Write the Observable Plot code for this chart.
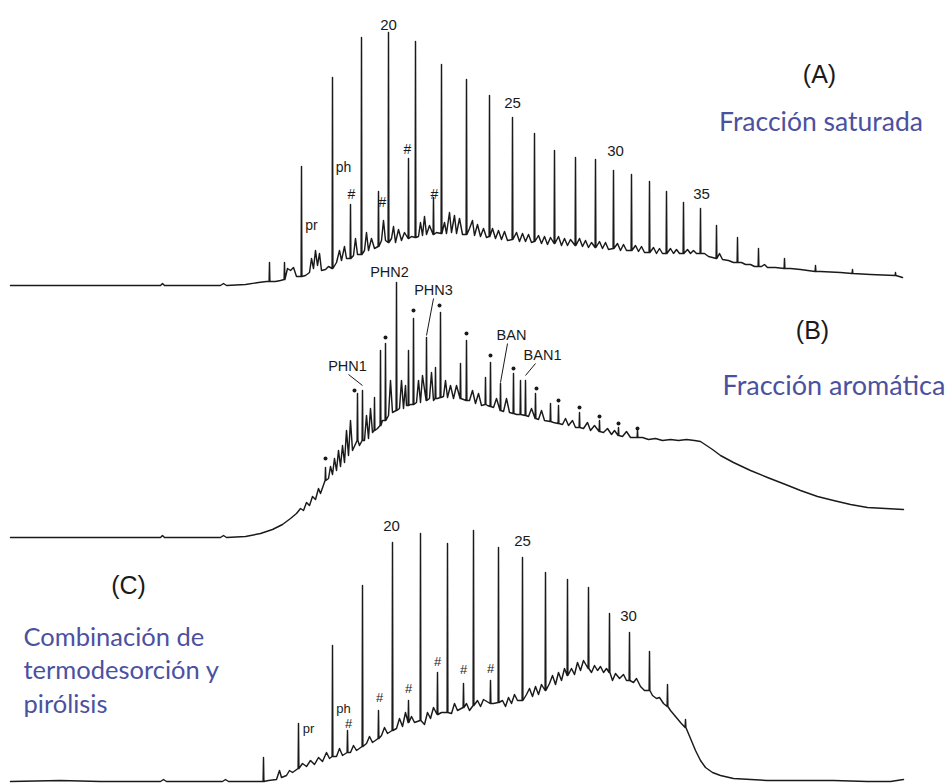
<!DOCTYPE html>
<html><head><meta charset="utf-8">
<script src="https://cdn.jsdelivr.net/npm/d3@7"></script>
<script src="https://cdn.jsdelivr.net/npm/@observablehq/plot@0.6"></script>
<style>
html,body{margin:0;padding:0;background:#fff;overflow:hidden}
#chart{position:relative;width:951px;height:784px}
.panel{position:absolute;left:0;width:951px;height:290px}
</style></head><body><div id="chart"></div>
<script>
// ---- Data: retention time t (min), detector signal v (a.u.) ----
// Panel A: fracción saturada
const humpA = [
[1.0,2.5],[16.0,2.5],[16.2,3.5],[16.4,2.5],[22.0,2.5],[22.3,3.5],[22.6,2.5],[24.5,3],[25.8,4],[26.6,4.5],
[27.5,4.5],[28.0,5],[28.7,11],[29.0,10],[29.3,11.5],[29.6,7],
[30.5,7.5],[30.9,9],[31.1,16],[31.3,11],[31.5,20],[31.7,12.5],[31.9,18.5],[32.1,10],[32.5,10.5],[32.8,12],
[33.6,14],[33.9,20],[34.1,15],[34.4,22],[34.6,16],[35.3,17.5],[35.5,26],[35.7,18],
[36.4,20],[36.6,29],[36.8,20],[37.1,26],[37.4,21],[38.1,25],[38.3,35],[38.5,25],
[39.1,26],[39.3,32],[39.5,24],[39.8,30.5],[40.1,25],[40.4,29],[41.1,27],
[41.8,27],[42.0,34],[42.2,27.5],[42.4,37],[42.6,28],[42.9,32.5],[43.6,29],
[44.4,34],[44.6,28.5],[44.9,39],[45.1,29],[45.4,37.5],[45.6,28.5],[45.9,36],[46.2,28],
[46.9,31],[47.2,35],[47.4,27.5],[47.7,33],[48.0,27],[48.3,31],[48.6,26.5],
[49.2,31],[49.5,26],[49.8,30],[50.1,25.5],[50.4,29.5],[50.7,25],
[51.6,29],[51.9,24.5],[52.2,28.5],[52.5,24.5],[52.8,28],[53.1,24],
[53.8,27.5],[54.1,23.5],[54.4,27],[54.7,23],[55.0,26.5],
[55.8,27],[56.1,22.5],[56.4,26],[56.7,22.5],[57.0,25.5],
[57.9,26],[58.2,22],[58.5,25],[58.8,21.5],[59.1,24],
[59.9,24.5],[60.2,21],[60.5,24],[60.8,20.5],
[61.7,23.5],[62.0,20],[62.3,23],[62.6,20],
[63.5,22.5],[63.8,19.5],[64.1,22],[64.4,19],
[65.3,21.5],[65.6,18.5],[65.9,21],[66.2,18.5],
[67.0,21],[67.3,18.5],[67.6,20.5],[67.9,18.5],
[68.7,20.5],[69.0,18.5],[69.3,20],[69.6,18.5],
[70.4,18.5],[70.8,17],[71.2,16.5],[71.9,18.5],[72.2,15.5],[72.8,15],[73.3,14],
[74.1,14],[74.5,13],[75.0,13],[75.4,12],[76.1,12],[76.4,13],[76.7,11.5],[77.5,11.5],
[79.0,11],[80.0,10.5],[82.0,9.5],[84.0,9],[87.0,8],[90.2,6.5]
];
// peaks: [t, foot, apex]
const peaksA = [
[26.9,4.5,14],[28.4,5.5,14],[30.1,7,62],[33.2,11,106.5],[35.0,16,43],[36.1,18,126.5],[37.8,22,49.5],
[38.8,24,129],[40.8,26,66],[41.5,26.5,124.5],[43.3,28,46.5],[44.1,28.5,113],[46.6,28,105.5],
[48.9,27,97.5],[51.2,25.5,86.5],[53.4,24.5,78.5],[55.4,23.5,70],[57.5,22.5,66.5],[59.5,21.5,65.5],
[61.3,21,60],[63.1,20,58],[64.9,19,54.5],[66.6,18.5,49.5],[68.3,18.5,44],[70.0,18.5,41],
[71.6,16,32.5],[73.7,14,26.5],[75.8,12,21],[78.4,11,16],[81.5,9.5,12.5],[85.2,8.5,10.5],[89.5,7.5,9]
];
const carbonA = [["20",38.8,132.5],["25",51.2,93.5],["30",61.5,69.5],["35",70.1,48]];
const notesA = [["pr",31.1,32.5],["ph",34.3,61.5],["#",35.1,48],["#",38.2,44],["#",40.7,70.5],["#",43.4,48]];
const titleA = [["(A)",81.9,108]];
const subA = [["Fracción saturada",82.05,84]];

// Panel B: fracción aromática
const humpB = [
[1.0,1.5],[16.0,1.5],[16.2,2.5],[16.4,1.5],[22.0,1.5],[22.3,2.5],[22.6,1.5],[24.5,2],[26.0,3.5],[27.2,5.5],
[28.2,8],[29.0,11],[29.6,13.5],[30.0,16],[30.3,15],[30.6,19],[30.9,17.5],[31.2,22],[31.5,20.5],[31.8,26],[32.0,23.5],
[32.8,31],[33.0,37],[33.2,33],[33.4,41],[33.6,35],[33.8,45],[34.0,37],[34.2,47.5],[34.4,39],[34.6,55],[34.8,42.5],
[35.0,60],[35.2,45],[35.9,47.5],[36.4,50],[36.6,62.5],[36.8,51],[37.0,66],[37.2,54],[37.7,56],[38.2,60],
[38.8,62.5],[39.0,80],[39.2,64],[39.9,66],[40.1,80],[40.3,66],[40.5,77.5],[40.6,67.5],[41.0,68],
[41.6,69],[41.8,80],[42.0,69],[42.2,82.5],[42.9,71],[43.1,84],[43.3,70],[43.7,71],
[44.3,72],[44.5,80],[44.7,71.5],[45.0,77.5],[45.3,71],[45.6,77.5],[46.3,70.5],[46.9,70],
[47.2,75],[47.5,68.5],[47.8,73.5],[48.1,67.5],[48.7,67.5],[49.3,66.5],[49.6,71],[50.3,64.5],[50.6,71],[50.9,64],
[51.6,63],[52.8,62],[53.1,66],[53.8,60.5],[54.1,65],[54.4,60],[55.3,59],[56.2,58],[56.5,61],[56.8,57.5],
[57.2,60],[57.5,56.5],[58.3,56],[58.7,59],[59.0,55],[59.4,57.5],[60.3,54],[60.7,56],[61.1,53],[61.4,55],
[62.2,52],[62.6,54.5],[63.0,51.5],[64.2,51.5],[64.8,50.5],[65.5,51],[66.2,50],[67.0,50.5],[67.8,50],
[68.6,50.5],[69.4,50],[70.0,49.5],[70.6,47.5],[71.2,45.5],[72.0,42.5],[73.3,39],[75.0,35],[76.7,31.5],
[78.5,28],[80.0,25],[81.7,22],[83.3,20],[85.0,18],[86.7,16.5],[88.5,16],[90.3,15.5]
];
const peaksB = [
[32.5,30,36.5],[35.7,50,73.5],[36.2,50,75],[37.4,55,71.5],[38.0,57.5,95],[38.5,60,98.5],[39.6,65,129],
[40.8,67.5,95],[41.3,68,111],[42.6,70,101.5],[43.5,71,86.5],[44.0,71.5,114],[46.0,71,88.5],[46.6,70,100],
[48.5,68,81.5],[49.0,67,89],[50.0,65,78.5],[51.3,63.5,83.5],[52.0,63,80],[52.5,62.5,80],[53.5,61,73.5],
[55.0,59.5,68.5],[55.8,58.5,67.5],[57.9,56.5,64],[59.9,54.5,60],[61.8,52.5,56.5],[63.7,51.5,55]
];
const dotsB = [[32.5,41],[35.4,75],[38.5,101.5],[41.3,115],[43.9,117.5],[46.6,103.5],[49.0,92.5],[51.3,86],
[53.6,76],[55.8,70],[57.9,66.5],[59.9,62],[61.8,58.5],[63.7,56]];
const namesB = [["PHN1",34.7,87],["PHN2",38.9,134],["PHN3",43.3,125],["BAN",51.1,102.5],["BAN1",54.2,92.5]];
const leadersB = [[34.8,83,36.2,77.5],[43.3,121,42.6,102.5],[50.7,98.5,50.0,79],[53.5,88.5,52.5,82.5]];
const titleB = [["(B)",81.2,105]];
const subB = [["Fracción aromática",83.35,77]];

// Panel C: combinación de termodesorción y pirólisis
const humpC = [
[1.0,1.5],[6.0,2],[10.0,1.5],[16.0,1.5],[16.3,2.5],[16.6,1.5],[22.2,1.5],[22.5,2.5],[22.8,1.5],[25.8,1.5],
[26.8,2],[27.6,2.5],[27.9,7],[28.1,3.5],[28.6,4.5],[28.9,7],[29.2,6],
[30.2,10.5],[30.6,9],[31.0,12],[31.4,10],[31.8,13.5],[32.2,11.5],[32.6,16],[32.9,13],
[33.6,14],[33.9,18],[34.2,14.5],[35.0,16],[35.3,19.5],[35.6,17],[36.6,20.5],[36.9,24],[37.2,21],
[38.1,24.5],[38.4,28.5],[38.7,25.5],[39.6,28],[39.9,33],[40.2,29],[40.5,36],[41.1,34],[41.4,31],
[42.4,30],[42.7,36],[43.0,33],[43.3,38.5],[44.1,36],[45.1,35.5],[45.4,40.5],[45.7,37],
[46.6,40.5],[46.9,37],[47.7,42],[48.0,39],[48.3,42.5],[49.3,40.5],
[50.2,42],[50.5,39],[50.8,43.5],[51.1,40.5],[51.4,45],[51.7,42],
[52.6,45],[52.9,48],[53.2,44],[53.5,49],[53.8,45],[54.1,50],
[54.9,50.5],[55.2,54.5],[55.5,50],[55.8,56],[56.1,52],[56.4,58],
[57.1,58],[57.4,55],[57.7,61],[58.0,57],[58.3,62],
[59.1,56],[59.4,59.5],[59.7,57],[60.0,59],[60.3,56],[60.6,58],
[61.2,52],[61.5,55.5],[61.9,53],[62.3,55],[62.6,52],
[63.3,51],[63.6,53],[64.0,49],[64.4,47],[65.2,44.5],[65.6,43],[65.9,43.5],[66.3,40.5],
[67.0,37],[67.5,34],[68.0,31],[69.0,23],[69.5,17],[70.0,12],[70.5,8.5],[71.2,6],[72.0,4.5],
[73.3,3],[76.7,2],[83.3,2],[86.7,1.5],[89.0,1.5],[90.3,2.5]
];
const peaksC = [
[26.3,1.5,13.5],[29.8,8,30.5],[33.2,14,69.5],[34.7,16,27],[36.2,19,99.5],[37.8,23,37],[39.2,27,121],
[40.8,31,42],[42.0,32,125.5],[43.7,35,56],[44.7,36,120.5],[46.3,38.5,50.5],[47.3,39.5,127],[49.0,40.5,52],
[49.8,41,118.5],[52.2,42,113.5],[54.5,47,106],[56.7,54.5,102.5],[58.8,58,98.5],[60.9,56,85.5],
[62.9,52,76],[64.9,47,66.5],[66.7,39,50],[68.5,28.5,32.5]
];
const carbonC = [["20",39.1,129],["25",52.2,121.5],["30",62.8,84]];
const notesC = [["pr",30.8,28],["ph",34.3,38],["#",34.8,30.5],["#",37.9,43.5],["#",40.8,48],["#",43.7,61.5],["#",46.3,57.5],["#",49.0,58]];
const titleC = [["(C)",12.8,99.5]];
const subC = [["Combinación de",2.3,73.5],["termodesorción y",2.3,57],["pirólisis",2.3,40]];

// ---- Drawing ----
const INK = "#1a1a1a", BLUE = "#4b519f";
const SANS = "'Liberation Sans', Arial, sans-serif";
const HUM = "Lato, 'Open Sans', sans-serif";

function trace(hump, peaks) {
  const pts = hump.map(([t, v]) => ({t, v}));
  for (const [t, foot, top] of peaks) pts.push({t: t - 0.04, v: foot}, {t, v: top}, {t: t + 0.04, v: foot});
  return pts.sort((a, b) => a.t - b.t);
}
const txt = (rows, o) => Plot.text(rows, {x: d => d[1], y: d => d[2], text: d => d[0], ...o});

function panel(top, marks) {
  const div = document.createElement("div");
  div.className = "panel";
  div.style.top = top + "px";
  div.append(Plot.plot({
    width: 951, height: 290, margin: 0,
    x: {domain: [0, 95.1], axis: null},
    y: {domain: [0, 145], axis: null},
    style: {background: "transparent", overflow: "visible"},
    marks
  }));
  document.getElementById("chart").append(div);
}

panel(0, [
  Plot.line(trace(humpA, peaksA), {x: "t", y: "v", stroke: INK, strokeWidth: 1.45}),
  txt(carbonA, {fontSize: 15, fontFamily: SANS, fill: INK}),
  txt(notesA, {fontSize: 14, fontFamily: SANS, fill: INK}),
  txt(titleA, {fontSize: 25, fontFamily: SANS, fill: INK}),
  txt(subA, {fontSize: 26.5, fontFamily: HUM, fill: BLUE})
]);
panel(250, [
  Plot.line(trace(humpB, peaksB), {x: "t", y: "v", stroke: INK, strokeWidth: 1.45}),
  Plot.dot(dotsB, {x: d => d[0], y: d => d[1], r: 2, fill: INK, stroke: null}),
  Plot.link(leadersB, {x1: d => d[0], y1: d => d[1], x2: d => d[2], y2: d => d[3], stroke: INK, strokeWidth: 1}),
  txt(namesB, {fontSize: 14.5, fontFamily: SANS, fill: INK}),
  txt(titleB, {fontSize: 25, fontFamily: SANS, fill: INK}),
  txt(subB, {fontSize: 27, fontFamily: HUM, fill: BLUE})
]);
panel(494, [
  Plot.line(trace(humpC, peaksC), {x: "t", y: "v", stroke: INK, strokeWidth: 1.45}),
  txt(carbonC, {fontSize: 15, fontFamily: SANS, fill: INK}),
  txt(notesC, {fontSize: 13, fontFamily: SANS, fill: INK}),
  txt(titleC, {fontSize: 25, fontFamily: SANS, fill: INK}),
  txt(subC, {fontSize: 25.5, fontFamily: HUM, fill: BLUE, textAnchor: "start"})
]);
</script></body></html>
